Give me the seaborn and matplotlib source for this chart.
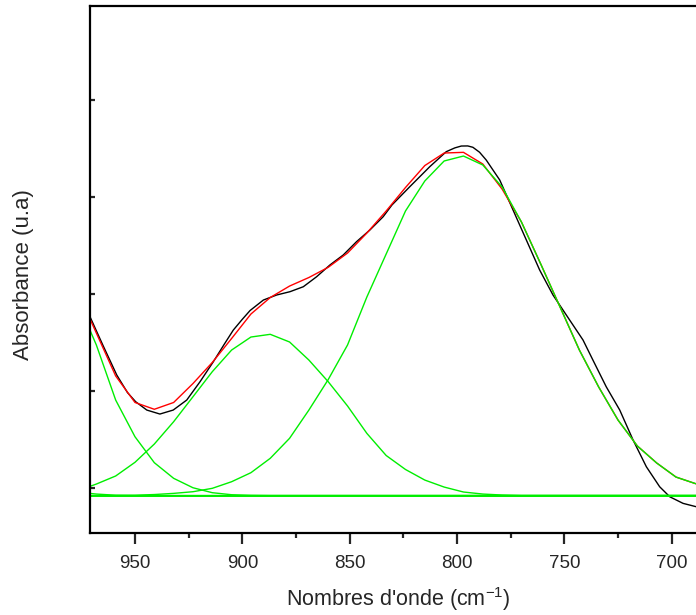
import matplotlib
matplotlib.use("Agg")
import matplotlib.pyplot as plt
import seaborn as sns
import pandas as pd
from matplotlib.ticker import MultipleLocator

# ---------------- data ----------------
# experimental spectrum (black)
exp_x = [971, 965, 958.5, 953.5, 949.7, 944.5, 938.4, 932.2, 925.9, 919.7, 913.5, 908.5, 904.2,
         900.0, 896.4, 890.2, 884.0, 877.8, 871.6, 865.4, 859.2, 853.0, 846.8, 840.6,
         834.4, 830.3, 822.0, 812.7, 805.0, 801.0, 798.0, 795.0, 792.6, 789.5, 786.4, 780.1, 773.9,
         767.7, 761.5, 755.3, 749.1, 741.3, 736.7, 730.5, 724.2, 718.0, 711.8,
         705.6, 700.9, 694.7, 688.5, 682.0]
exp_y = [0.1768, 0.1475, 0.1166, 0.0985, 0.0891, 0.0805, 0.0764, 0.0805, 0.0908, 0.1097, 0.1303, 0.1480, 0.1629,
         0.1740, 0.1830, 0.1938, 0.1990, 0.2024, 0.2075, 0.2178, 0.2299, 0.2402, 0.2539, 0.2659,
         0.2796, 0.2917, 0.3105, 0.3311, 0.3466, 0.3505, 0.3524, 0.3525, 0.3511, 0.3460, 0.3380, 0.3174, 0.2865,
         0.2556, 0.2247, 0.1990, 0.1784, 0.1526, 0.1320, 0.1045, 0.0805, 0.0497, 0.0221,
         0.0015, -0.0088, -0.0156, -0.0191, -0.0204]

# wavenumber grid of the fitted curves
fit_x = [977, 968, 959, 950, 941, 932, 923, 914, 905, 896, 887, 878, 869, 860, 851,
         842, 833, 824, 815, 806, 797, 788, 779, 770, 761, 752, 743, 734, 725, 716,
         707, 698, 689, 680]

# cumulative fit (red)
fit_sum = [0.2041, 0.1598, 0.1156, 0.0883, 0.0813, 0.0883, 0.1078, 0.1295, 0.1542, 0.1794,
           0.1964, 0.2082, 0.2170, 0.2275, 0.2422, 0.2628, 0.2855, 0.3097, 0.3323, 0.3452,
           0.3459, 0.3339, 0.3081, 0.2742, 0.2309, 0.1866, 0.1423, 0.1042, 0.0702, 0.0435,
           0.0260, 0.0115, 0.0048, 0.0002]

# individual components (green)
peak_1 = [0.1938, 0.1475, 0.0908, 0.0530, 0.0263, 0.0102, 0.0005, -0.0046, -0.0067, -0.0073,
          -0.0075, -0.0075, -0.0075, -0.0075, -0.0075, -0.0075, -0.0075, -0.0075, -0.0075, -0.0075,
          -0.0075, -0.0075, -0.0075, -0.0075, -0.0075, -0.0075, -0.0075, -0.0075, -0.0075, -0.0075,
          -0.0075, -0.0075, -0.0075, -0.0075]
peak_2 = [-0.0029, 0.0043, 0.0126, 0.0267, 0.0455, 0.0685, 0.0942, 0.1200, 0.1423, 0.1557,
          0.1585, 0.1506, 0.1320, 0.1097, 0.0847, 0.0565, 0.0337, 0.0193, 0.0084, 0.0012,
          -0.0039, -0.0060, -0.0070, -0.0075, -0.0075, -0.0075, -0.0075, -0.0075, -0.0075, -0.0075,
          -0.0075, -0.0075, -0.0075, -0.0075]
peak_3 = [-0.0075, -0.0075, -0.0074, -0.0072, -0.0065, -0.0053, -0.0036, -0.0001, 0.0067, 0.0160,
          0.0308, 0.0514, 0.0805, 0.1119, 0.1475, 0.1969, 0.2412, 0.2855, 0.3164, 0.3370,
          0.3421, 0.3329, 0.3102, 0.2742, 0.2309, 0.1866, 0.1423, 0.1042, 0.0702, 0.0435,
          0.0260, 0.0115, 0.0048, 0.0002]
peak_4 = [-0.0040, -0.0060, -0.0072, -0.0075, -0.0075, -0.0075, -0.0075, -0.0075, -0.0075, -0.0075,
          -0.0075, -0.0075, -0.0075, -0.0075, -0.0075, -0.0075, -0.0075, -0.0075, -0.0075, -0.0075,
          -0.0075, -0.0075, -0.0075, -0.0075, -0.0075, -0.0075, -0.0075, -0.0075, -0.0075, -0.0075,
          -0.0075, -0.0075, -0.0075, -0.0075]
baseline_x = [980, 670]
baseline_y = [-0.0075, -0.0075]

x_ticks = [950, 900, 850, 800, 750, 700]
y_ticks = [0.0, 0.1, 0.2, 0.3, 0.4]

# ---------------- style ----------------
sns.set_style("ticks")
plt.rcParams["font.family"] = ["Liberation Sans", "DejaVu Sans"]
plt.rcParams["mathtext.fontset"] = "custom"
plt.rcParams["mathtext.rm"] = "Liberation Sans"
plt.rcParams["mathtext.it"] = "Liberation Sans"
plt.rcParams["mathtext.bf"] = "Liberation Sans"

fig = plt.figure(figsize=(6.96, 6.15), dpi=100)
W, H = 696, 615
left_px, right_px, top_px, bot_px = 90, 720, 6.3, 532.7
ax = fig.add_axes([left_px / W, 1 - bot_px / H, (right_px - left_px) / W, (bot_px - top_px) / H])

GREEN = "#00ee00"
lw = 1.0

df_exp = pd.DataFrame({"x": exp_x, "y": exp_y})
sns.lineplot(data=df_exp, x="x", y="y", color="black", lw=lw, ax=ax, estimator=None, sort=False)
df_fit = pd.DataFrame({"x": fit_x, "y": fit_sum})
sns.lineplot(data=df_fit, x="x", y="y", color="red", lw=lw, ax=ax, estimator=None, sort=False)
for comp in (peak_4, peak_1, peak_2, peak_3):
    d = pd.DataFrame({"x": fit_x, "y": comp})
    sns.lineplot(data=d, x="x", y="y", color=GREEN, lw=lw, ax=ax, estimator=None, sort=False)
sns.lineplot(x=baseline_x, y=baseline_y, color=GREEN, lw=1.4, ax=ax, estimator=None, sort=False)

ax.set_xlim(970.96, 677.5)
ax.set_ylim(-0.0458, 0.4963)
ax.set_xticks(x_ticks)
ax.xaxis.set_minor_locator(MultipleLocator(25))
ax.set_yticks(y_ticks)
ax.set_yticklabels([])

for s in ["left", "bottom", "top"]:
    ax.spines[s].set_linewidth(1.6)
    ax.spines[s].set_color("black")
ax.spines["right"].set_visible(False)

ax.tick_params(axis="x", which="major", direction="out", length=8, width=1.6,
               labelsize=13.5, pad=8, top=False)
ax.tick_params(axis="x", which="minor", direction="out", length=3.8, width=1.6, top=False)
ax.tick_params(axis="y", which="major", direction="in", length=3.8, width=1.6, right=False)

ax.set_xlabel("Nombres d'onde (cm$^{\\mathregular{-1}}$)", fontsize=15.5)
ax.set_ylabel("Absorbance (u.a)", fontsize=16)
ax.xaxis.set_label_coords((398 - left_px) / (right_px - left_px), (bot_px - 599) / (bot_px - top_px))
ax.xaxis.label.set_va("center")
ax.yaxis.set_label_coords((24 - left_px) / (right_px - left_px), (bot_px - 275) / (bot_px - top_px))
ax.yaxis.label.set_va("center")

fig.savefig("out.png", dpi=100)
